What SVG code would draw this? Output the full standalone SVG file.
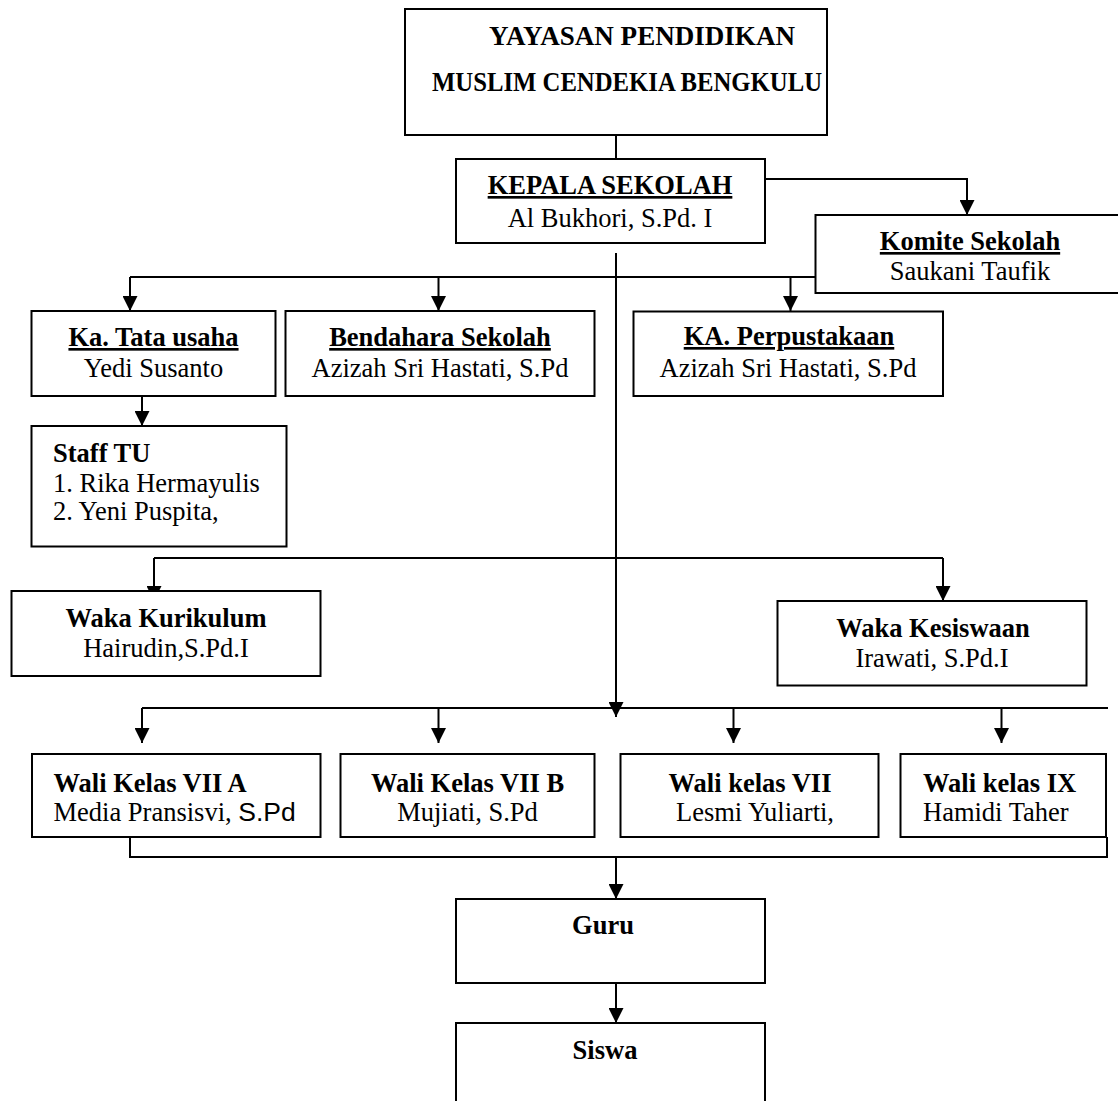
<svg xmlns="http://www.w3.org/2000/svg" width="1118" height="1101" viewBox="0 0 1118 1101">
<style>
  .box { fill: #fff; stroke: #000; stroke-width: 2; }
  .c { fill: none; stroke: #000; stroke-width: 2; }
  text { font-family: "Liberation Serif", "Times New Roman", serif; font-size: 26.5px; fill: #000; }
  .b { font-weight: bold; }
  .m { text-anchor: middle; }
  .u { text-decoration: underline; text-decoration-thickness: 2px; text-underline-offset: 4px; }
  .sans { font-family: "Liberation Sans", Arial, sans-serif; }
</style>
<defs>
  <marker id="arr" markerUnits="userSpaceOnUse" markerWidth="15" markerHeight="15" viewBox="0 0 15 15" refX="15" refY="7.5" orient="auto">
    <path d="M0,0 L15,7.5 L0,15 z" fill="#000"/>
  </marker>
</defs>
<rect width="1118" height="1101" fill="#fff"/>

<g id="connectors">
  <path class="c" d="M616,135 V159"/>
  <path class="c" d="M765,179 H967 V215" marker-end="url(#arr)"/>
  <path class="c" d="M616,253 V717" marker-end="url(#arr)"/>
  <path class="c" d="M130,277 H815"/>
  <path class="c" d="M130,277 V311" marker-end="url(#arr)"/>
  <path class="c" d="M438.5,277 V311" marker-end="url(#arr)"/>
  <path class="c" d="M790.5,277 V311" marker-end="url(#arr)"/>
  <path class="c" d="M142,396 V426" marker-end="url(#arr)"/>
  <path class="c" d="M154,558 H943"/>
  <path class="c" d="M154,558 V601" marker-end="url(#arr)"/>
  <path class="c" d="M943,558 V601" marker-end="url(#arr)"/>
  <path class="c" d="M142,708 H1108"/>
  <path class="c" d="M142,708 V743" marker-end="url(#arr)"/>
  <path class="c" d="M438.5,708 V743" marker-end="url(#arr)"/>
  <path class="c" d="M733.5,708 V743" marker-end="url(#arr)"/>
  <path class="c" d="M1001.5,708 V743" marker-end="url(#arr)"/>
  <path class="c" d="M130,827 V857 H1107 V837"/>
  <path class="c" d="M616,857 V899" marker-end="url(#arr)"/>
  <path class="c" d="M616,982 V1023" marker-end="url(#arr)"/>
</g>

<g id="yayasan">
  <rect class="box" x="405" y="9" width="422" height="126"/>
  <text class="b" x="489" y="45" textLength="306" lengthAdjust="spacingAndGlyphs">YAYASAN PENDIDIKAN</text>
  <text class="b" x="432" y="91" textLength="390" lengthAdjust="spacingAndGlyphs">MUSLIM CENDEKIA BENGKULU</text>
</g>

<g id="kepala">
  <rect class="box" x="456" y="159" width="309" height="84"/>
  <text class="b m u" x="610" y="194">KEPALA SEKOLAH</text>
  <text class="m" x="610" y="227">Al Bukhori, S.Pd. I</text>
</g>

<g id="komite">
  <rect class="box" x="815.5" y="215" width="310" height="78"/>
  <text class="b m u" x="970" y="250">Komite Sekolah</text>
  <text class="m" x="970" y="280">Saukani Taufik</text>
</g>

<g id="tatausaha">
  <rect class="box" x="31.5" y="311" width="244" height="85"/>
  <text class="b m u" x="153.5" y="346">Ka. Tata usaha</text>
  <text class="m" x="153.5" y="377">Yedi Susanto</text>
</g>

<g id="bendahara">
  <rect class="box" x="285.5" y="311" width="309" height="85"/>
  <text class="b m u" x="440" y="346">Bendahara Sekolah</text>
  <text class="m" x="440" y="377">Azizah Sri Hastati, S.Pd</text>
</g>

<g id="perpustakaan">
  <rect class="box" x="633.5" y="311.5" width="309.5" height="84.5"/>
  <text class="b m u" x="789" y="345">KA. Perpustakaan</text>
  <text class="m" x="788" y="377">Azizah Sri Hastati, S.Pd</text>
</g>

<g id="staff-tu">
  <rect class="box" x="31.5" y="426" width="255" height="120.5"/>
  <text class="b" x="53" y="461.5">Staff TU</text>
  <text x="53" y="491.5">1. Rika Hermayulis</text>
  <text x="53" y="520">2. Yeni Puspita,</text>
</g>

<g id="waka-kurikulum">
  <rect class="box" x="11.5" y="591" width="309" height="85"/>
  <text class="b m" x="166" y="627">Waka Kurikulum</text>
  <text class="m" x="166" y="657">Hairudin,S.Pd.I</text>
</g>

<g id="waka-kesiswaan">
  <rect class="box" x="777.5" y="601" width="309" height="84.5"/>
  <text class="b m" x="933" y="636.5">Waka Kesiswaan</text>
  <text class="m" x="932" y="666.5">Irawati, S.Pd.I</text>
</g>

<g id="wali-7a">
  <rect class="box" x="32" y="754" width="288.5" height="83"/>
  <text class="b" x="53.5" y="792">Wali Kelas VII A</text>
  <text x="53.5" y="821">Media Pransisvi, <tspan class="sans">S.Pd</tspan></text>
</g>

<g id="wali-7b">
  <rect class="box" x="340.5" y="754" width="254" height="83"/>
  <text class="b m" x="467.5" y="792">Wali Kelas VII B</text>
  <text class="m" x="467.5" y="821">Mujiati, S.Pd</text>
</g>

<g id="wali-7">
  <rect class="box" x="620.5" y="754" width="258" height="83"/>
  <text class="b m" x="750" y="792">Wali kelas VII</text>
  <text class="m" x="755" y="821">Lesmi Yuliarti,</text>
</g>

<g id="wali-9">
  <rect class="box" x="900.5" y="754" width="205.5" height="83"/>
  <text class="b" x="923" y="792">Wali kelas IX</text>
  <text x="923" y="821">Hamidi Taher</text>
</g>

<g id="guru">
  <rect class="box" x="456" y="899" width="309" height="84"/>
  <text class="b m" x="603" y="934">Guru</text>
</g>

<g id="siswa">
  <rect class="box" x="456" y="1023" width="309" height="85"/>
  <text class="b m" x="605" y="1059">Siswa</text>
</g>
</svg>
